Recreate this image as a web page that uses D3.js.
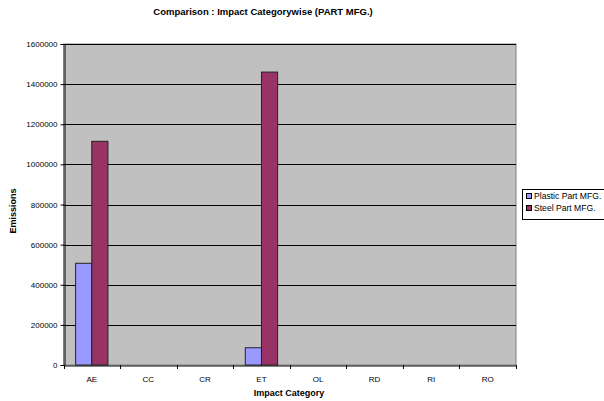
<!DOCTYPE html>
<html><head><meta charset="utf-8">
<script src="https://cdn.jsdelivr.net/npm/d3@7"></script>
<style>body{margin:0;background:#fff}svg{display:block;font-family:Arial,"Liberation Sans",sans-serif}</style>
</head><body>
<svg id="c" width="604" height="401"></svg>
<script>
const categories = ["AE","CC","CR","ET","OL","RD","RI","RO"];
const seriesNames = ["Plastic Part MFG.","Steel Part MFG."];
const plasticValues = [507000,0,0,86000,0,0,0,0];
const steelValues = [1115000,0,0,1460000,0,0,0,0];
const yTicks = [0,200000,400000,600000,800000,1000000,1200000,1400000,1600000];
const colors = ["#9999FF","#993366"];

const svg = d3.select("#c");
const L = 63.5, R = 516, T = 44, B = 365;
const x = d3.scaleBand().domain(categories).range([L,R]).paddingInner(0).paddingOuter(0);
const y = d3.scaleLinear().domain([0,1600000]).range([B,T]);
const bw = x.bandwidth();
const barW = bw/3.5;
const x1 = d3.scaleBand().domain(seriesNames).range([bw*0.75/3.5, bw*0.75/3.5 + 2*barW]);

// plot background
svg.append("rect").attr("x",L).attr("y",T).attr("width",R-L).attr("height",B-T)
  .attr("fill","#C0C0C0").attr("stroke","#808080").attr("stroke-width",1);

// gridlines
svg.append("g").selectAll("line").data(yTicks.filter(d=>d>0)).join("line")
  .attr("x1",L).attr("x2",R).attr("y1",d=>Math.round(y(d))+0.5).attr("y2",d=>Math.round(y(d))+0.5)
  .attr("stroke","#000").attr("stroke-width",1);

// bars
const series = [plasticValues, steelValues];
series.forEach((vals,si)=>{
  svg.append("g").selectAll("rect").data(categories.map((c,i)=>({c,v:vals[i]})).filter(d=>d.v>0)).join("rect")
    .attr("x",d=>x(d.c)+x1(seriesNames[si]))
    .attr("y",d=>y(d.v))
    .attr("width",x1.bandwidth())
    .attr("height",d=>B-y(d.v))
    .attr("fill",colors[si]).attr("stroke","#222").attr("stroke-width",1);
});

// y axis
const ya = svg.append("g").attr("transform",`translate(${Math.round(L)+0.5},0)`)
  .call(d3.axisLeft(y).tickValues(yTicks).tickSize(4).tickPadding(3).tickFormat(d3.format("d")));
ya.select(".domain").attr("stroke","#000");
ya.selectAll("text").attr("font-size","8px").attr("fill","#000").attr("font-family","Arial, Liberation Sans");

// x axis
const xa = svg.append("g").attr("transform",`translate(0,${B+0.5})`)
  .call(d3.axisBottom(x).tickSize(0).tickPadding(11));
xa.select(".domain").attr("stroke","#000");
xa.selectAll("text").attr("font-size","8px").attr("fill","#000").attr("font-family","Arial, Liberation Sans");
svg.append("g").selectAll("line").data(categories.concat(["_end"])).join("line")
  .attr("x1",(d,i)=>Math.round(L+i*bw)+0.5).attr("x2",(d,i)=>Math.round(L+i*bw)+0.5)
  .attr("y1",B).attr("y2",B+4).attr("stroke","#000");

// title
svg.append("text").attr("x",263).attr("y",15).attr("text-anchor","middle")
  .attr("font-size","9.5px").attr("font-weight","bold").text("Comparison : Impact Categorywise (PART MFG.)");

// axis titles
svg.append("text").attr("transform","translate(16,211) rotate(-90)").attr("text-anchor","middle")
  .attr("font-size","9px").attr("font-weight","bold").text("Emissions");
svg.append("text").attr("x",289).attr("y",396).attr("text-anchor","middle")
  .attr("font-size","9px").attr("font-weight","bold").text("Impact Category");

// legend
const lg = svg.append("g");
lg.append("rect").attr("x",522.5).attr("y",189.5).attr("width",90).attr("height",30)
  .attr("fill","#fff").attr("stroke","#000").attr("stroke-width",1);
seriesNames.forEach((n,i)=>{
  lg.append("rect").attr("x",526.5).attr("y",193.5+i*12).attr("width",5).attr("height",5)
    .attr("fill",colors[i]).attr("stroke","#000").attr("stroke-width",1);
  lg.append("text").attr("x",534).attr("y",199+i*12).attr("font-size","8.6px").text(n);
});
</script>
</body></html>
